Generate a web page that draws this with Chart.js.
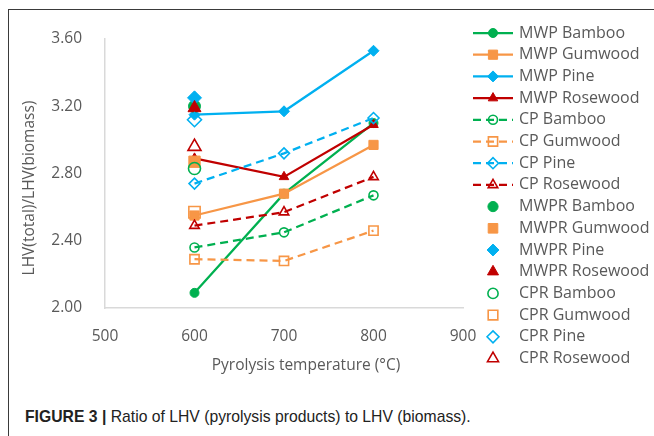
<!DOCTYPE html>
<html><head><meta charset="utf-8">
<script src="https://cdn.jsdelivr.net/npm/chart.js@4"></script>
<style>
html,body{margin:0;padding:0;background:#fff;}
#wrap{position:relative;width:654px;height:436px;overflow:hidden;background:#fff;}
#frame{position:absolute;left:8px;top:9px;width:700px;height:500px;border-left:1.5px solid #3a3a3a;border-top:1.5px solid #3a3a3a;}
#c{position:absolute;left:0;top:0;}
#cap{position:absolute;left:25px;top:407px;font-family:"Liberation Sans",Arial,sans-serif;font-size:17px;color:#222;white-space:nowrap;transform:scaleX(0.925);transform-origin:0 0;}
</style></head>
<body><div id="wrap"><div id="frame"></div><canvas id="c" width="654" height="380"></canvas>
<div id="cap"><b>FIGURE 3 |</b> Ratio of LHV (pyrolysis products) to LHV (biomass).</div></div>
<script>
// ---- data ----
const temperatures = [600, 700, 800];
const rawTemperature = [600];
const mwpBamboo   = [2.09, 2.68, 3.10];
const mwpGumwood  = [2.55, 2.68, 2.97];
const mwpPine     = [3.15, 3.17, 3.53];
const mwpRosewood = [2.89, 2.78, 3.09];
const cpBamboo    = [2.36, 2.45, 2.67];
const cpGumwood   = [2.29, 2.28, 2.46];
const cpPine      = [2.74, 2.92, 3.13];
const cpRosewood  = [2.49, 2.57, 2.78];
const mwprBamboo   = [3.20];
const mwprGumwood  = [2.87];
const mwprPine     = [3.25];
const mwprRosewood = [3.19];
const cprBamboo    = [2.83];
const cprGumwood   = [2.57];
const cprPine      = [3.12];
const cprRosewood  = [2.96];
const xTicks = [500, 600, 700, 800, 900];
const yTicks = [2.00, 2.40, 2.80, 3.20, 3.60];
const xTitle = 'Pyrolysis temperature (°C)';
const yTitle = 'LHV(total)/LHV(biomass)';

// ---- styles ----
const GREEN = '#00B050', ORANGE = '#F79646', BLUE = '#00B0F0', RED = '#C00000';
const FONT = '"Open Sans", sans-serif';
const TXT = '#595959';
const RAD = {circle:{s:4.5,b:6}, rect:{s:6.5,b:8}, rectRot:{s:5.5,b:7}, triangle:{s:5.5,b:7.5}};

function pts(xs, ys){ return ys.map((y,i)=>({x:xs[i], y:y})); }
let idx = 0;
function ds(label, xs, ys, color, style, kind){
  const filled = kind==='MWP' || kind==='MWPR';
  const big = kind==='MWPR' || kind==='CPR';
  return {
    label, data: pts(xs, ys),
    borderColor: color, backgroundColor: filled ? color : 'rgba(255,255,255,0)',
    pointStyle: style, pointRadius: big ? RAD[style].b : RAD[style].s,
    pointBorderColor: color, pointBackgroundColor: filled ? color : 'rgba(255,255,255,0)',
    pointBorderWidth: filled ? 1 : 1.6,
    borderWidth: 2.25,
    showLine: kind==='MWP' || kind==='CP',
    borderDash: kind==='CP' ? [8,5] : [],
    order: -(idx++),
    pointHoverRadius: big ? RAD[style].b : RAD[style].s
  };
}
const datasets = [
  ds('MWP Bamboo', temperatures, mwpBamboo, GREEN, 'circle', 'MWP'),
  ds('MWP Gumwood', temperatures, mwpGumwood, ORANGE, 'rect', 'MWP'),
  ds('MWP Pine', temperatures, mwpPine, BLUE, 'rectRot', 'MWP'),
  ds('MWP Rosewood', temperatures, mwpRosewood, RED, 'triangle', 'MWP'),
  ds('CP Bamboo', temperatures, cpBamboo, GREEN, 'circle', 'CP'),
  ds('CP Gumwood', temperatures, cpGumwood, ORANGE, 'rect', 'CP'),
  ds('CP Pine', temperatures, cpPine, BLUE, 'rectRot', 'CP'),
  ds('CP Rosewood', temperatures, cpRosewood, RED, 'triangle', 'CP'),
  ds('MWPR Bamboo', rawTemperature, mwprBamboo, GREEN, 'circle', 'MWPR'),
  ds('MWPR Gumwood', rawTemperature, mwprGumwood, ORANGE, 'rect', 'MWPR'),
  ds('MWPR Pine', rawTemperature, mwprPine, BLUE, 'rectRot', 'MWPR'),
  ds('MWPR Rosewood', rawTemperature, mwprRosewood, RED, 'triangle', 'MWPR'),
  ds('CPR Bamboo', rawTemperature, cprBamboo, GREEN, 'circle', 'CPR'),
  ds('CPR Gumwood', rawTemperature, cprGumwood, ORANGE, 'rect', 'CPR'),
  ds('CPR Pine', rawTemperature, cprPine, BLUE, 'rectRot', 'CPR'),
  ds('CPR Rosewood', rawTemperature, cprRosewood, RED, 'triangle', 'CPR')
];

const extras = {
  id: 'extras',
  afterDraw(chart){
    const ctx = chart.ctx;
    ctx.save();
    ctx.font = '15.5px ' + FONT;
    ctx.fillStyle = TXT;
    ctx.textAlign = 'center';
    ctx.textBaseline = 'middle';
    ctx.fillText(xTitle, 306, 366);
    ctx.save();
    ctx.translate(30, 188);
    ctx.rotate(-Math.PI/2);
    ctx.fillText(yTitle, 0, 0);
    ctx.restore();
    // legend
    ctx.font = '16px ' + FONT;
    const x0 = 473, x1 = 513, mx = 493, tx = 519, y0 = 33, dy = 21.7;
    chart.data.datasets.forEach((d, i) => {
      const y = y0 + i*dy;
      if (d.showLine){
        ctx.save();
        ctx.strokeStyle = d.borderColor;
        ctx.lineWidth = d.borderWidth;
        ctx.setLineDash(d.borderDash);
        ctx.beginPath(); ctx.moveTo(x0, y); ctx.lineTo(x1, y); ctx.stroke();
        ctx.restore();
      }
      ctx.save();
      ctx.fillStyle = d.pointBackgroundColor;
      ctx.strokeStyle = d.pointBorderColor;
      ctx.lineWidth = d.pointBorderWidth;
      ctx.setLineDash([]);
      const r = d.showLine ? d.pointRadius : d.pointRadius*0.85;
      Chart.helpers.drawPoint(ctx, {pointStyle:d.pointStyle, radius:r, rotation:0, borderWidth:d.pointBorderWidth}, mx, y);
      ctx.restore();
      ctx.textAlign = 'left';
      ctx.fillStyle = TXT;
      ctx.fillText(d.label, tx, y);
    });
    ctx.restore();
  }
};

new Chart(document.getElementById('c'), {
  type: 'scatter',
  data: { datasets },
  options: {
    responsive: false, animation: false, devicePixelRatio: 1,
    layout: { padding: { left: 0, top: 39, right: 191, bottom: 0 } },
    plugins: { legend: { display: false }, tooltip: { enabled: false } },
    scales: {
      x: {
        type: 'linear', min: 500, max: 900,
        afterBuildTicks: s => { s.ticks = xTicks.map(v => ({value: v})); },
        afterFit: s => { s.height = 72; },
        ticks: { color: TXT, font: { family: FONT, size: 15.5 }, padding: 19, maxRotation: 0 },
        grid: { display: false, drawTicks: false },
        border: { display: true, color: '#D9D9D9', width: 1.5 }
      },
      y: {
        type: 'linear', min: 2.0, max: 3.6,
        afterBuildTicks: s => { s.ticks = yTicks.map(v => ({value: v})); },
        afterFit: s => { s.width = 105; },
        ticks: { color: TXT, font: { family: FONT, size: 15.5 }, padding: 23, callback: v => Number(v).toFixed(2) },
        grid: { display: false, drawTicks: false },
        border: { display: true, color: '#D9D9D9', width: 1.5 }
      }
    }
  },
  plugins: [extras]
});
</script>
</body></html>
